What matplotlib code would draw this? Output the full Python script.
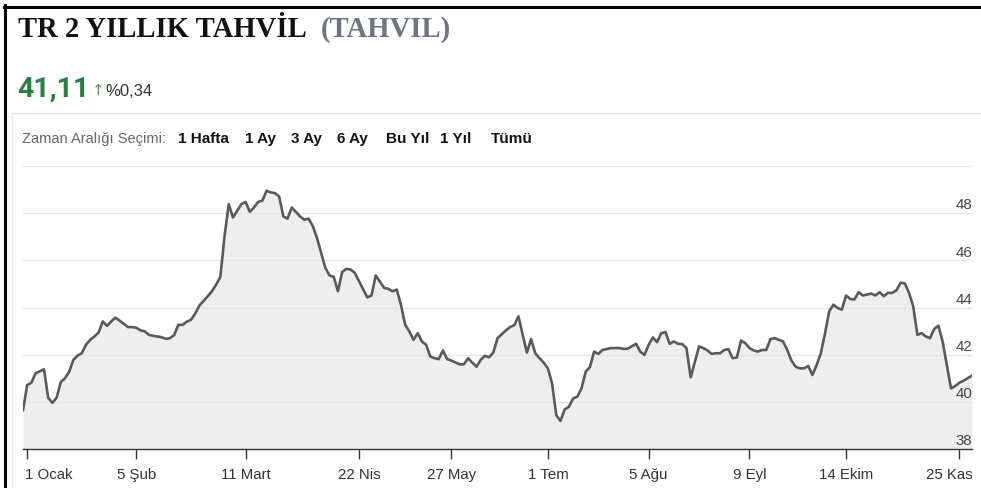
import matplotlib.pyplot as plt
from matplotlib.lines import Line2D
from matplotlib.transforms import ScaledTranslation

# trading-day index and closing yield (%)
days = [
    0, 1, 2, 3, 5, 6, 7, 8, 9, 10, 11, 12, 13, 14, 15, 16, 17, 18, 19, 20,
    21, 22, 24, 25, 26, 27, 28, 29, 30, 31, 32, 33, 34, 35, 36, 37, 38, 39,
    40, 41, 42, 44, 45, 46, 47, 48, 49, 50, 51, 52, 53, 54, 55, 56, 57, 58,
    59, 60, 61, 62, 63, 64, 66, 67, 68, 69, 70, 71, 72, 73, 74, 75, 76, 77,
    78, 79, 80, 81, 82, 83, 84, 86, 87, 88, 89, 90, 91, 92, 93, 94, 95, 96,
    97, 98, 99, 100, 101, 102, 104, 105, 106, 107, 108, 109, 110, 111, 112,
    113, 115, 116, 117, 118, 119, 120, 121, 122, 123, 124, 125, 126, 127,
    128, 129, 130, 131, 132, 133, 134, 135, 136, 137, 138, 140, 141, 142,
    143, 144, 146, 147, 148, 149, 150, 151, 152, 153, 154, 155, 156, 157,
    158, 159, 161, 162, 163, 164, 165, 166, 167, 168, 169, 170, 171, 172,
    173, 174, 175, 176, 177, 178, 179, 181, 182, 183, 184, 185, 186, 187,
    188, 189, 190, 191, 192, 193, 194, 195, 196, 197, 198, 199, 200, 201,
    202, 203, 204, 205, 206, 207, 208, 209, 210, 211, 212, 213, 214, 215,
    216, 217, 218, 219, 220, 221, 222, 223, 224, 226,
]
yields = [
    39.65, 40.71, 40.81, 41.21, 41.38, 40.17, 39.96, 40.17, 40.84, 41.00,
    41.28, 41.78, 41.96, 42.06, 42.42, 42.63, 42.77, 42.94, 43.41, 43.22,
    43.41, 43.57, 43.31, 43.17, 43.17, 43.14, 43.03, 42.99, 42.84, 42.80,
    42.77, 42.74, 42.67, 42.70, 42.83, 43.27, 43.26, 43.40, 43.48, 43.74,
    44.08, 44.48, 44.69, 44.97, 45.30, 47.03, 48.38, 47.82, 48.10, 48.38,
    48.48, 48.06, 48.24, 48.48, 48.53, 48.95, 48.88, 48.85, 48.71, 47.86,
    47.77, 48.24, 47.86, 47.72, 47.77, 47.46, 46.96, 46.32, 45.68, 45.36,
    45.30, 44.69, 45.50, 45.64, 45.61, 45.47, 45.12, 44.76, 44.43, 44.51,
    45.36, 44.83, 44.79, 44.69, 44.76, 44.12, 43.27, 42.99, 42.63, 42.91,
    42.56, 42.42, 41.92, 41.85, 41.81, 42.18, 41.81, 41.75, 41.59, 41.59,
    41.85, 41.66, 41.49, 41.78, 41.95, 41.89, 42.09, 42.70, 43.03, 43.17,
    43.25, 43.63, 42.84, 42.09, 42.66, 42.06, 41.85, 41.66, 41.42, 40.78,
    39.43, 39.19, 39.68, 39.79, 40.14, 40.22, 40.57, 41.28, 41.47, 42.13,
    42.03, 42.20, 42.28, 42.28, 42.28, 42.25, 42.25, 42.46, 42.13, 41.99,
    42.42, 42.73, 42.53, 42.91, 42.96, 42.46, 42.56, 42.46, 42.45, 42.28,
    41.04, 42.35, 42.28, 42.18, 42.03, 42.06, 42.06, 42.20, 42.23, 41.85,
    41.88, 42.60, 42.49, 42.28, 42.18, 42.13, 42.20, 42.20, 42.66, 42.70,
    42.56, 42.20, 41.75, 41.49, 41.42, 41.42, 41.52, 41.14, 41.56, 42.06,
    42.91, 43.84, 44.12, 43.98, 43.91, 44.51, 44.36, 44.34, 44.65, 44.51,
    44.55, 44.59, 44.51, 44.65, 44.48, 44.62, 44.62, 44.73, 45.05, 45.02,
    44.62, 44.05, 42.84, 42.91, 42.77, 42.70, 43.09, 43.23, 42.56, 41.56,
    40.57, 40.67, 40.81, 40.90, 41.11,
]
tick_days = [1, 27, 53, 80, 102, 125, 149, 173, 196, 223]
tick_labels = ['1 Ocak', '5 Şub', '11 Mart', '22 Nis', '27 May',
               '1 Tem', '5 Ağu', '9 Eyl', '14 Ekim', '25 Kas']
grid_levels = [38, 40, 42, 44, 46, 48, 50]
range_buttons = ['1 Hafta', '1 Ay', '3 Ay', '6 Ay', 'Bu Yıl', '1 Yıl', 'Tümü']
button_x = [178, 245, 291, 337, 386, 440, 491]

last_value = '41,11'
change = '%0,34'

W, H = 981, 488
plt.rcParams['font.family'] = ['Liberation Sans', 'DejaVu Sans']

fig = plt.figure(figsize=(W / 100, H / 100), dpi=100)


def fx(x):
    return x / W


def fy(y):
    return 1 - y / H


# page frame and panel outline
fig.add_artist(Line2D([fx(5), fx(5)], [0, fy(5)], color='black', lw=2.2))
fig.add_artist(Line2D([fx(4), 1], [fy(6.5), fy(6.5)], color='black', lw=2.2))
fig.add_artist(Line2D([fx(12), 1], [fy(113), fy(113)], color='#e2e2e2', lw=1))
fig.add_artist(Line2D([fx(12), fx(12)], [0, fy(113)], color='#ececec', lw=1))

# header
fig.text(fx(18), fy(37), 'TR 2 YILLIK TAHVİL', family='Liberation Serif',
         weight='bold', fontsize=20.6, color='#111111', va='baseline')
fig.text(fx(321), fy(37), '(TAHVIL)', family='Liberation Serif',
         weight='bold', fontsize=20.6, color='#6e7580', va='baseline')
fig.text(fx(17), fy(97), last_value, family='Roboto', weight='bold',
         fontsize=20.5, color='#2a7f3e', va='baseline')
fig.text(fx(92), fy(95), '↑', family='DejaVu Sans', fontsize=11,
         color='#5c8f68', va='baseline')
fig.text(fx(105), fy(96), change, fontsize=12, color='#333333', va='baseline')

fig.text(fx(22), fy(143), 'Zaman Aralığı Seçimi:', fontsize=10.5,
         color='#666666', va='baseline')
for label, x in zip(range_buttons, button_x):
    fig.text(fx(x), fy(143), label, fontsize=11, weight='bold',
             color='#111111', va='baseline')

# chart
ax = fig.add_axes([fx(23), 39 / H, fx(972 - 23), (449 - 166) / H])
ax.fill_between(days, yields, 38, color='#eeeeee', lw=0, zorder=1)
ax.plot(days, yields, color='#5a5a5a', lw=1.9, zorder=3)
ax.set_xlim(0, 226)
ax.set_ylim(38, 50)

ax.set_yticks(grid_levels)
ax.grid(axis='y', color='#e6e6e6', lw=1, zorder=0)
ax.tick_params(axis='y', length=0, labelleft=False)
for v in grid_levels[:-1]:
    ax.text(1.0, v + 0.03, str(v), transform=ax.get_yaxis_transform(),
            ha='right', va='bottom', fontsize=10.8, color='#444444', zorder=4)

ax.set_xticks(tick_days)
ax.set_xticklabels(tick_labels)
ax.tick_params(axis='x', length=7, width=1, color='#333333', pad=7,
               labelsize=10.8, labelcolor='#333333')
labels = ax.get_xticklabels()
labels[0].set_ha('left')
labels[0].set_transform(labels[0].get_transform()
                        + ScaledTranslation(-0.02, 0, fig.dpi_scale_trans))
labels[-1].set_ha('right')
labels[-1].set_transform(labels[-1].get_transform()
                         + ScaledTranslation(0.13, 0, fig.dpi_scale_trans))

for side in ['left', 'right', 'top']:
    ax.spines[side].set_visible(False)
ax.spines['bottom'].set_color('#333333')
ax.spines['bottom'].set_linewidth(1)
ax.set_facecolor('white')

fig.savefig('out.png', dpi=100)
